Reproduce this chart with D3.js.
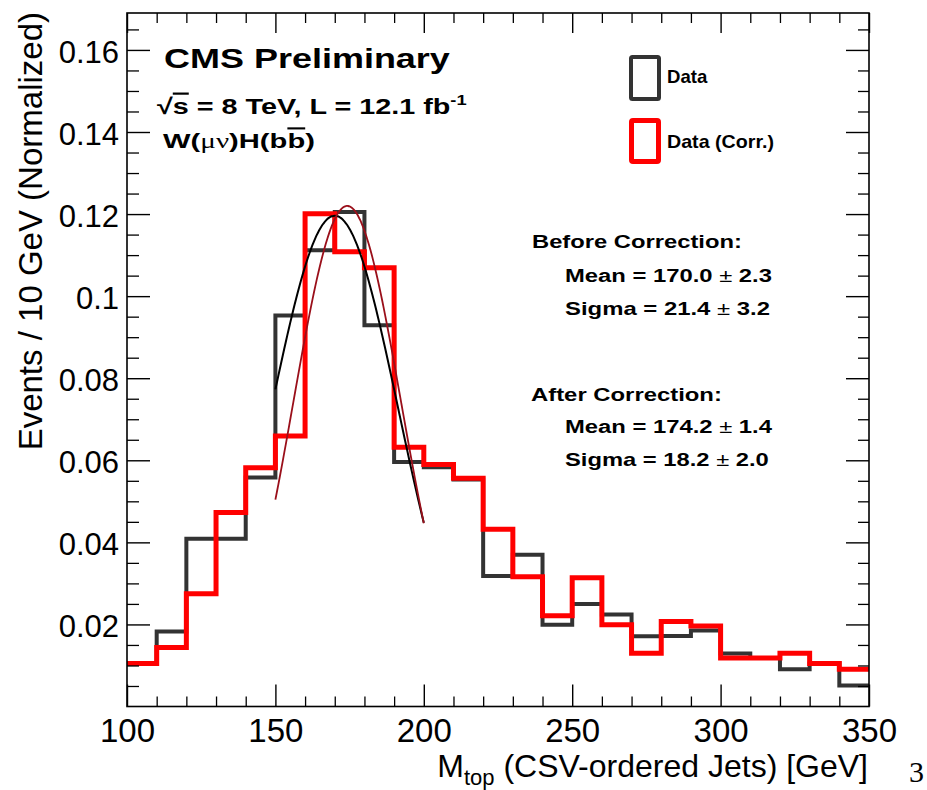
<!DOCTYPE html>
<html>
<head>
<meta charset="utf-8">
<script src="https://cdn.jsdelivr.net/npm/d3@7"></script>
<style>
  html, body { margin: 0; padding: 0; background: #fff; }
  svg { display: block; font-family: "Liberation Sans", Arial, Helvetica, sans-serif; }
</style>
</head>
<body>
<svg id="chart" width="927" height="790"></svg>
<script>
// ---------------- data ----------------
const binEdges = [100,110,120,130,140,150,160,170,180,190,200,210,220,230,240,250,260,270,280,290,300,310,320,330,340,350];
const dataValues = [0.0105,0.0183,0.0409,0.0409,0.0558,0.0953,0.1112,0.1205,0.0929,0.0596,0.0583,0.0553,0.0318,0.0370,0.0199,0.0250,0.0224,0.0171,0.0172,0.0185,0.0129,0.0118,0.0091,0.0105,0.0051];
const dataCorrValues = [0.0105,0.0144,0.0275,0.0473,0.0582,0.0659,0.1201,0.1108,0.1069,0.0632,0.0590,0.0556,0.0432,0.0316,0.0221,0.0314,0.0199,0.0130,0.0207,0.0196,0.0118,0.0118,0.0130,0.0105,0.0091];
// Gaussian fits (before, after correction)
const fitMean = [170.0, 174.2];
const fitSigma = [21.4, 18.2];
const fitPeak = [0.1196, 0.1220];
const fitRange = [150, 200];
const seriesNames = ["Data", "Data (Corr.)"];
const xTickValues = [100,150,200,250,300,350];
const xTickLabels = ["100","150","200","250","300","350"];
const yTickValues = [0.02,0.04,0.06,0.08,0.10,0.12,0.14,0.16];
const yTickLabels = ["0.02","0.04","0.06","0.08","0.1","0.12","0.14","0.16"];
const xMinorStep = 10;
const yMinorStep = 0.005;
const xDomain = [100, 350];
const yDomain = [0, 0.169];

// ---------------- layout ----------------
const L = 127, R = 869, T = 13, B = 706.5;
const svg = d3.select("#chart");
const x = d3.scaleLinear().domain(xDomain).range([L, R]);
const y = d3.scaleLinear().domain(yDomain).range([B, T]);

const xMinor = d3.range(xDomain[0], xDomain[1] + 0.001, xMinorStep).filter(v => !xTickValues.includes(v));
const yMinor = d3.range(0, yDomain[1], yMinorStep).map(v => +v.toFixed(3)).filter(v => v > 0 && !yTickValues.some(t => Math.abs(t - v) < 1e-6));

// ---------------- histograms ----------------
function stepPoints(vals) {
  return vals.flatMap((v, i) => [[binEdges[i], v], [binEdges[i + 1], v]]);
}
const line = d3.line().x(d => x(d[0])).y(d => y(d[1]));

svg.append("path").datum(stepPoints(dataValues))
  .attr("d", line).attr("fill", "none").attr("stroke", "#333333")
  .attr("stroke-width", 4).attr("stroke-linejoin", "miter");
svg.append("path").datum(stepPoints(dataCorrValues))
  .attr("d", line).attr("fill", "none").attr("stroke", "#ff0000")
  .attr("stroke-width", 5).attr("stroke-linejoin", "miter");

// ---------------- fits ----------------
const fitColors = ["#000000", "#9a0f1a"];
const fitWidths = [2, 1.8];
fitMean.forEach((m, k) => {
  const pts = d3.range(fitRange[0], fitRange[1] + 0.001, 0.5).map(v =>
    [v, fitPeak[k] * Math.exp(-((v - m) ** 2) / (2 * fitSigma[k] ** 2))]);
  svg.append("path").datum(pts).attr("d", d3.line().x(d => x(d[0])).y(d => y(d[1])).curve(d3.curveBasis))
    .attr("fill", "none").attr("stroke", fitColors[k]).attr("stroke-width", fitWidths[k]);
});

// ---------------- axes ----------------
function styleAxis(g, w) {
  g.select(".domain").remove();
  g.selectAll(".tick line").attr("stroke", "#000").attr("stroke-width", w);
}
// left
svg.append("g").attr("transform", `translate(${L},0)`)
  .call(d3.axisLeft(y).tickValues(yTickValues).tickFormat((d, i) => yTickLabels[i])
    .tickSizeInner(-23).tickSizeOuter(0).tickPadding(8))
  .call(g => { styleAxis(g, 1.4); g.selectAll("text").attr("font-size", 31).attr("fill", "#000")
      .attr("font-family", "'Liberation Sans', Arial, sans-serif").attr("dy", "0.40em"); });
svg.append("g").attr("transform", `translate(${L},0)`)
  .call(d3.axisLeft(y).tickValues(yMinor).tickFormat("").tickSizeInner(-12).tickSizeOuter(0))
  .call(g => styleAxis(g, 1.3));
// right
svg.append("g").attr("transform", `translate(${R},0)`)
  .call(d3.axisRight(y).tickValues(yTickValues).tickFormat("").tickSizeInner(-23).tickSizeOuter(0))
  .call(g => styleAxis(g, 1.4));
svg.append("g").attr("transform", `translate(${R},0)`)
  .call(d3.axisRight(y).tickValues(yMinor).tickFormat("").tickSizeInner(-11).tickSizeOuter(0))
  .call(g => styleAxis(g, 1.3));
// bottom
svg.append("g").attr("transform", `translate(0,${B})`)
  .call(d3.axisBottom(x).tickValues(xTickValues).tickFormat((d, i) => xTickLabels[i])
    .tickSizeInner(-22).tickSizeOuter(0).tickPadding(12))
  .call(g => { styleAxis(g, 1.4); g.selectAll("text").attr("font-size", 33).attr("fill", "#000")
      .attr("font-family", "'Liberation Sans', Arial, sans-serif"); });
svg.append("g").attr("transform", `translate(0,${B})`)
  .call(d3.axisBottom(x).tickValues(xMinor).tickFormat("").tickSizeInner(-10).tickSizeOuter(0))
  .call(g => styleAxis(g, 1.3));
// top
svg.append("g").attr("transform", `translate(0,${T})`)
  .call(d3.axisTop(x).tickValues(xTickValues).tickFormat("").tickSizeInner(-20).tickSizeOuter(0))
  .call(g => styleAxis(g, 1.4));
svg.append("g").attr("transform", `translate(0,${T})`)
  .call(d3.axisTop(x).tickValues(xMinor).tickFormat("").tickSizeInner(-10).tickSizeOuter(0))
  .call(g => styleAxis(g, 1.3));

// frame
svg.append("rect").attr("x", L).attr("y", T).attr("width", R - L).attr("height", B - T)
  .attr("fill", "none").attr("stroke", "#000").attr("stroke-width", 1.6);

// ---------------- axis titles ----------------
const xt = svg.append("text").attr("x", 868).attr("y", 777).attr("text-anchor", "end")
  .attr("font-size", 32).attr("fill", "#000");
xt.append("tspan").text("M");
xt.append("tspan").attr("font-size", 22).attr("dy", 8).text("top");
xt.append("tspan").attr("dy", -8).text(" (CSV-ordered Jets) [GeV]");

svg.append("text").attr("transform", "translate(42,12) rotate(-90)")
  .attr("text-anchor", "end").attr("font-size", 33).attr("fill", "#000")
  .text("Events / 10 GeV (Normalized)");

// page number
svg.append("text").attr("x", 909).attr("y", 782).attr("font-family", "'Liberation Serif', 'Times New Roman', serif")
  .attr("font-size", 30).attr("fill", "#000").text("3");

// ---------------- annotation text ----------------
function fitText(px, py, w, size, build) {
  const t = svg.append("text").attr("x", 0).attr("y", 0).attr("font-size", size)
    .attr("font-weight", "bold").attr("fill", "#000");
  build(t);
  const bw = t.node().getBBox().width;
  t.attr("transform", `translate(${px},${py}) scale(${w / bw},1)`);
  return t;
}
fitText(164, 68, 286, 27, t => t.text("CMS Preliminary"));
fitText(157, 114, 310, 22, t => {
  t.append("tspan").text("\u221A");
  t.append("tspan").style("text-decoration", "overline").text("s");
  t.append("tspan").text(" = 8 TeV, L = 12.1 fb");
  t.append("tspan").attr("font-size", 14).attr("dy", -9).text("-1");
});
fitText(163, 148, 152, 21, t => {
  t.append("tspan").text("W(");
  t.append("tspan").attr("font-weight", "normal").attr("font-family", "'Liberation Serif', serif").text("\u03BC\u03BD");
  t.append("tspan").text(")H(b");
  t.append("tspan").style("text-decoration", "overline").text("b");
  t.append("tspan").text(")");
});

// stats
const statLines = [
  ["Before Correction:", 532, 248, 210],
  ["Mean = 170.0 \u00B1 2.3", 565, 282, 207],
  ["Sigma = 21.4 \u00B1 3.2", 565, 315, 205],
  ["After Correction:", 531, 401, 191],
  ["Mean = 174.2 \u00B1 1.4", 565, 433, 208],
  ["Sigma = 18.2 \u00B1 2.0", 565, 466, 204]
];
statLines.forEach(([s, px, py, w]) => {
  fitText(px, py, w, 18.5, t => {
    const parts = s.split("\u00B1");
    t.append("tspan").text(parts[0]);
    if (parts.length > 1) {
      t.append("tspan").attr("font-weight", "normal").text("\u00B1");
      t.append("tspan").text(parts[1]);
    }
  });
});

// ---------------- legend ----------------
const legColors = ["#333333", "#ff0000"];
const legWidths = [4, 5];
const legY = [55, 118];
const legTextW = [41, 107];
seriesNames.forEach((n, i) => {
  const sw = legWidths[i];
  svg.append("rect").attr("x", 629 + sw / 2).attr("y", legY[i] + sw / 2)
    .attr("width", 32 - sw).attr("height", 46 - sw).attr("rx", 1.5)
    .attr("fill", "none").attr("stroke", legColors[i]).attr("stroke-width", sw);
  fitText(667, legY[i] + 28 + (i === 1 ? 2 : 0), legTextW[i], 18.5, t => t.text(n));
});
</script>
</body>
</html>
